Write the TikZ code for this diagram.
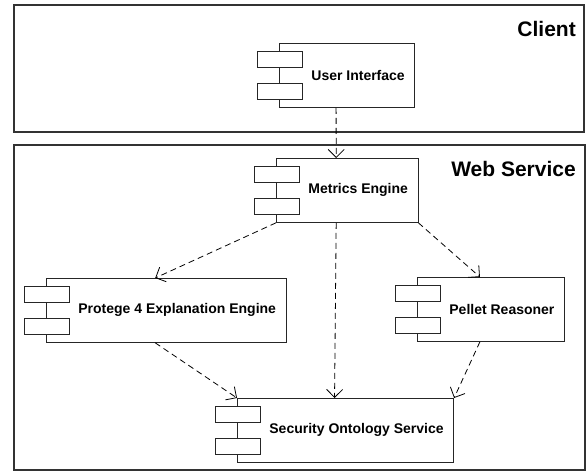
\documentclass[tikz,border=0pt]{standalone}
\usepackage{fontspec}
\setmainfont{Liberation Sans}
\usetikzlibrary{arrows.meta}

\tikzset{
  comp/.style={draw=black!85, line width=0.8pt, anchor=north west,
    minimum height=64pt, inner xsep=10pt, inner ysep=0pt,
    font=\bfseries\fontsize{14}{16}\selectfont,
    execute at begin node={\hspace*{22pt}}},
  compicon/.style={draw=black!85, fill=white, line width=0.8pt},
  dep/.style={draw=black, line width=0.8pt, dash pattern=on 6pt off 4pt,
    -{Straight Barb[length=8pt,width=16pt]}},
  tier/.style={draw=black!80, line width=1.2pt},
  tiername/.style={font=\bfseries\fontsize{21}{24}\selectfont,
    anchor=base east, inner sep=0pt}
}

\begin{document}
\begin{tikzpicture}[x=1pt,y=-1pt]
\useasboundingbox (0,0) rectangle (587,472);

% tiers
\draw[tier] (14,5) rectangle (584,132);
\draw[tier] (14,145) rectangle (585,470);
\node[tiername] (client) at (576,36) {Client};
\node[tiername] (web) at (576,176) {Web Service};

% components
\node[comp] (ui) at (279,43) {User Interface};
\node[comp] (metrics) at (276,158) {Metrics Engine};
\node[comp] (protege) at (46,278) {Protege 4 Explanation Engine};
\node[comp] (pellet) at (417,277) {Pellet Reasoner};
\node[comp] (security) at (237,398) {Security Ontology Service};

\foreach \c in {ui,metrics,protege,pellet,security} {
  \draw[compicon] ([shift={(-22pt,-8pt)}]\c.north west) rectangle ++(45pt,-16pt);
  \draw[compicon] ([shift={(-22pt,-40pt)}]\c.north west) rectangle ++(45pt,-16pt);
}

% dependencies
\draw[dep] ([xshift=-11pt]ui.south) -- ([xshift=-11pt]metrics.north);
\draw[dep] (metrics.south west) -- ([xshift=-11pt]protege.north);
\draw[dep] ([xshift=-11pt]metrics.south) -- ([xshift=-11pt]security.north);
\draw[dep] (metrics.south east) -- ([xshift=-11pt]pellet.north);
\draw[dep] ([xshift=-11pt]protege.south) -- (security.north west);
\draw[dep] ([xshift=-11pt]pellet.south) -- (security.north east);
\end{tikzpicture}
\end{document}
